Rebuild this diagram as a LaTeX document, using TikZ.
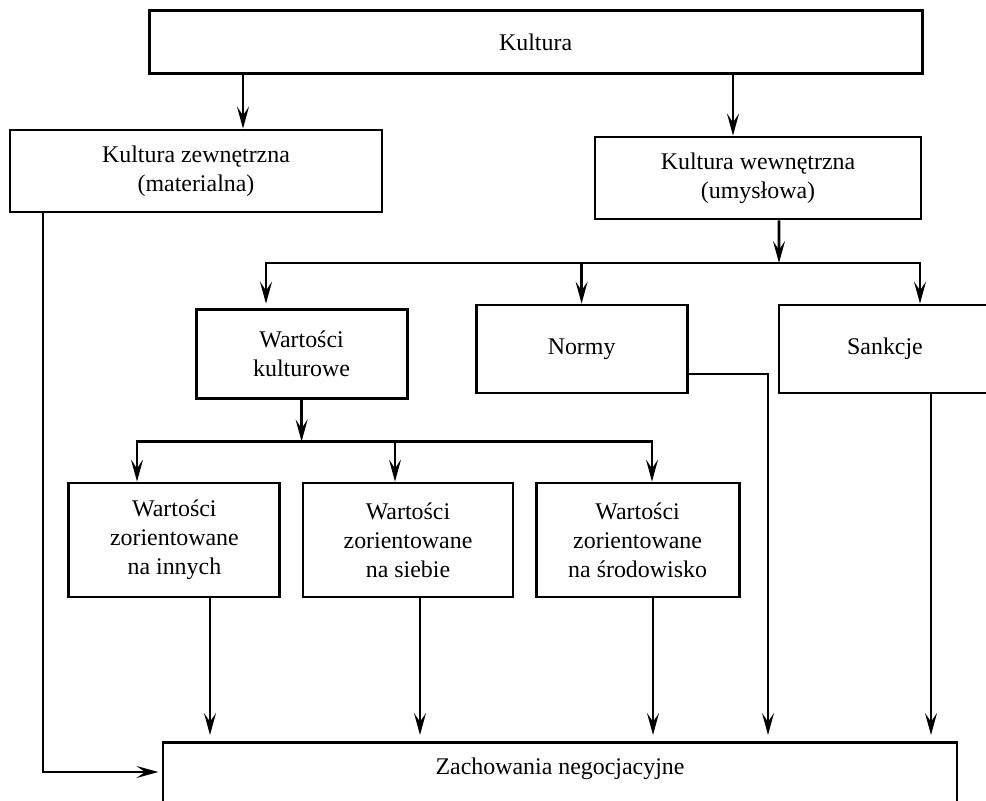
\documentclass[tikz,border=0pt]{standalone}
\usepackage{fontspec}
\setmainfont{Liberation Serif}
\usepackage{tikz}
\usetikzlibrary{arrows.meta, calc}
\tikzstyle{box} = [rectangle, draw=black, line width=2pt, inner sep=0pt, align=center, font=\fontsize{17}{20.6}\selectfont]
\tikzstyle{wide} = [minimum width=5.275cm]
\tikzstyle{connarrow} = [line width=1.8pt, -{Stealth[length=0.55cm, width=0.3cm, inset=0.22cm]}]
\tikzstyle{intozach} = [connarrow, shorten >=0.15cm]

\begin{document}
\begin{tikzpicture}
    \useasboundingbox (0,0) rectangle (24.65,-20);
    \clip (0,0) rectangle (24.65,-20);

    % Nodes
    \node (kultura) [box, minimum width=19.325cm, minimum height=1.575cm] at (13.39,-1.06) {Kultura};
    \node (zewn) [box, minimum width=9.3cm, minimum height=2.05cm] at ($(kultura)+(-8.49,-3.215)$) {Kultura zewnętrzna\\(materialna)};
    \node (wewn) [box, minimum width=8.15cm, minimum height=2.05cm] at ($(kultura)+(5.56,-3.39)$) {Kultura wewnętrzna\\(umysłowa)};

    \node (wk) [box, wide, minimum height=2.225cm] at (7.54,-8.84) {Wartości\\kulturowe};
    \node (normy) [box, wide, minimum height=2.2cm] at ($(wk)+(7,0.115)$) {Normy};
    \node (sankcje) [box, minimum width=5.3cm, minimum height=2.2cm] at ($(normy)+(7.585,0)$) {Sankcje};

    \node (inni) [box, wide, minimum height=2.85cm] at (4.36,-13.5) {Wartości\\zorientowane\\na innych};
    \node (siebie) [box, minimum width=5.25cm, minimum height=2.85cm] at ($(inni)+(5.84,0)$) {Wartości\\zorientowane\\na siebie};
    \node (srod) [box, minimum width=5.075cm, minimum height=2.85cm] at ($(siebie)+(5.74,0)$) {Wartości\\zorientowane\\na środowisko};

    \node (zach) [box, anchor=north, minimum width=19.85cm, text height=0.8cm, text depth=2cm] at (14,-18.525) {Zachowania negocjacyjne};

    % branch points
    \coordinate (splitA) at (19.475,-6.575);
    \coordinate (splitB) at ($(wk.south)+(0,-1.05)$);

    \draw [connarrow] ($(kultura.south)+(-7.315,0)$) -- ($(zewn.north)+(1.175,0)$);
    \draw [connarrow] ($(kultura.south)+(4.935,0)$) -- ($(wewn.north)+(-0.625,0)$);

    \draw [connarrow] ($(wewn.south)+(0.525,0)$) -- (splitA);
    \draw [connarrow, shorten >=0.1cm] (splitA) -| ($(wk.north)+(-0.89,0)$);
    \draw [connarrow] (splitA) -| (normy.north);
    \draw [connarrow] (splitA) -| ($(sankcje.north)+(0.875,0)$);

    \draw [connarrow] (wk.south) -- (splitB);
    \draw [connarrow] (splitB) -| ($(inni.north)+(-0.935,0)$);
    \draw [connarrow] (splitB) -| ($(siebie.north)+(-0.325,0)$);
    \draw [connarrow] (splitB) -| ($(srod.north)+(0.36,0)$);

    \draw [intozach] ($(inni.south)+(0.89,0)$) coordinate (p1) -- (p1 |- zach.north);
    \draw [intozach] ($(siebie.south)+(0.3,0)$) coordinate (p2) -- (p2 |- zach.north);
    \draw [intozach] ($(srod.south)+(0.385,0)$) coordinate (p3) -- (p3 |- zach.north);
    \draw [intozach] ($(normy.east)+(0,-0.625)$) -| ($(zach.north)+(5.2,0)$);
    \draw [intozach] ($(sankcje.south)+(1.15,0)$) coordinate (p4) -- (p4 |- zach.north);
    \draw [connarrow, shorten >=0.08cm] ($(zewn.south)+(-3.825,0)$) |- ($(zach.north west)+(0,-0.775)$);
\end{tikzpicture}
\end{document}
